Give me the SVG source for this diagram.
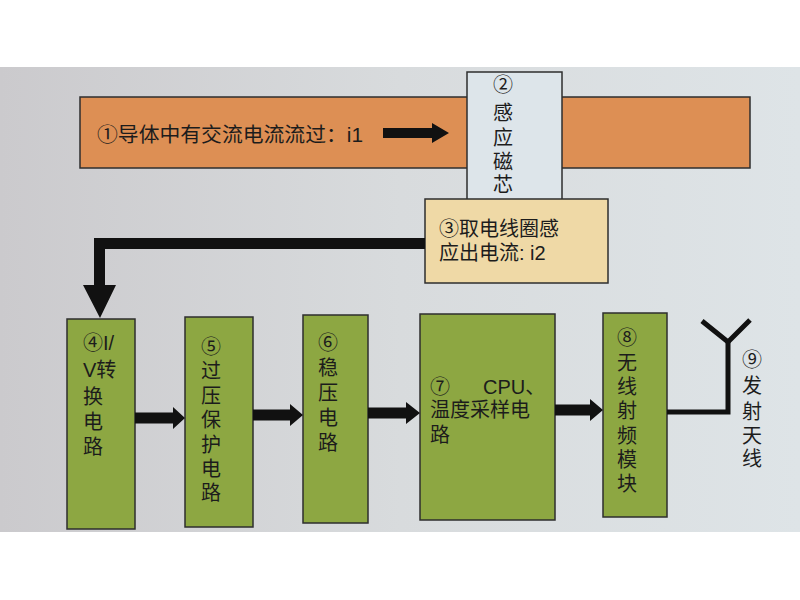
<svg xmlns="http://www.w3.org/2000/svg" width="800" height="600" viewBox="0 0 800 600">
<defs>
<linearGradient id="bg" x1="0" y1="0" x2="1" y2="0">
<stop offset="0" stop-color="#CBCACD"/>
<stop offset="0.5" stop-color="#D8DBDD"/>
<stop offset="1" stop-color="#DEE4E7"/>
</linearGradient>
<style>
.t{font-family:"Liberation Sans","Noto Sans CJK SC",sans-serif;font-size:20px;fill:#1c1c1c}
.box{stroke:#2e2e2e;stroke-width:1.5}
.g{fill:#8DA742}
.arr{fill:#111}
</style>
</defs>
<rect width="800" height="600" fill="#FFFFFF"/>
<rect x="0" y="67" width="800" height="465" fill="url(#bg)"/>

<g id="node1">
<rect class="box" x="80" y="97" width="670" height="71" fill="#DD8F54"/>
<text class="t" x="97" y="142" textLength="266" lengthAdjust="spacingAndGlyphs">①导体中有交流电流流过：i1</text>
</g>

<g id="node2">
<rect class="box" x="467" y="72" width="95" height="128" fill="#DDE5EA"/>
<text class="t" x="503" text-anchor="middle"><tspan x="503" y="92">②</tspan><tspan x="503" y="120">感</tspan><tspan x="503" y="145">应</tspan><tspan x="503" y="169">磁</tspan><tspan x="503" y="192">芯</tspan></text>
</g>

<g id="node3">
<rect class="box" x="425" y="199" width="183" height="84" fill="#EFD9A6"/>
<text class="t"><tspan x="439" y="236">③取电线圈感</tspan><tspan x="439" y="260">应出电流: i2</tspan></text>
</g>

<g id="node4">
<rect class="box g" x="67" y="319" width="68" height="210"/>
<text class="t"><tspan x="83" y="350">④I/</tspan><tspan x="83" y="377">V转</tspan><tspan x="83" y="404">换</tspan><tspan x="83" y="429">电</tspan><tspan x="83" y="454">路</tspan></text>
</g>

<g id="node5">
<rect class="box g" x="185" y="317" width="68" height="210"/>
<text class="t"><tspan x="201" y="354">⑤</tspan><tspan x="201" y="378">过</tspan><tspan x="201" y="403">压</tspan><tspan x="201" y="427">保</tspan><tspan x="201" y="452">护</tspan><tspan x="201" y="476">电</tspan><tspan x="201" y="500">路</tspan></text>
</g>

<g id="node6">
<rect class="box g" x="303" y="315" width="65" height="208"/>
<text class="t"><tspan x="318" y="350">⑥</tspan><tspan x="318" y="375">稳</tspan><tspan x="318" y="400">压</tspan><tspan x="318" y="425">电</tspan><tspan x="318" y="450">路</tspan></text>
</g>

<g id="node7">
<rect class="box g" x="420" y="314" width="135" height="206"/>
<text class="t"><tspan x="430" y="394">⑦</tspan><tspan x="483" y="394">CPU、</tspan><tspan x="430" y="417">温度采样电</tspan><tspan x="430" y="442">路</tspan></text>
</g>

<g id="node8">
<rect class="box g" x="603" y="313" width="64" height="204"/>
<text class="t"><tspan x="617" y="345">⑧</tspan><tspan x="617" y="370">无</tspan><tspan x="617" y="394">线</tspan><tspan x="617" y="418">射</tspan><tspan x="617" y="443">频</tspan><tspan x="617" y="467">模</tspan><tspan x="617" y="491">块</tspan></text>
</g>

<g id="node9">
<text class="t"><tspan x="742" y="367">⑨</tspan><tspan x="742" y="393">发</tspan><tspan x="742" y="419">射</tspan><tspan x="742" y="443">天</tspan><tspan x="742" y="466">线</tspan></text>
</g>

<g id="connectors">
<polygon class="arr" points="383,128 432,128 432,123 449,133 432,143 432,138 383,138"/>
<polygon class="arr" points="425,238 94,238 94,285 83,285 100,318 116,285 105,285 105,249 425,249"/>
<polygon class="arr" points="135,412.5 173,412.5 173,407 185,418 173,429 173,423.5 135,423.5"/>
<polygon class="arr" points="253,409.5 290,409.5 290,404 303,415 290,426 290,420.5 253,420.5"/>
<polygon class="arr" points="368,407.5 406,407.5 406,402 420,413 406,424 406,418.5 368,418.5"/>
<polygon class="arr" points="555,404.5 590,404.5 590,399 603,410 590,421 590,415.5 555,415.5"/>
<polyline points="667,412 728,412 728,342" fill="none" stroke="#111" stroke-width="5"/>
<polyline points="702,321 728,342 750,320" fill="none" stroke="#111" stroke-width="5"/>
</g>
</svg>
